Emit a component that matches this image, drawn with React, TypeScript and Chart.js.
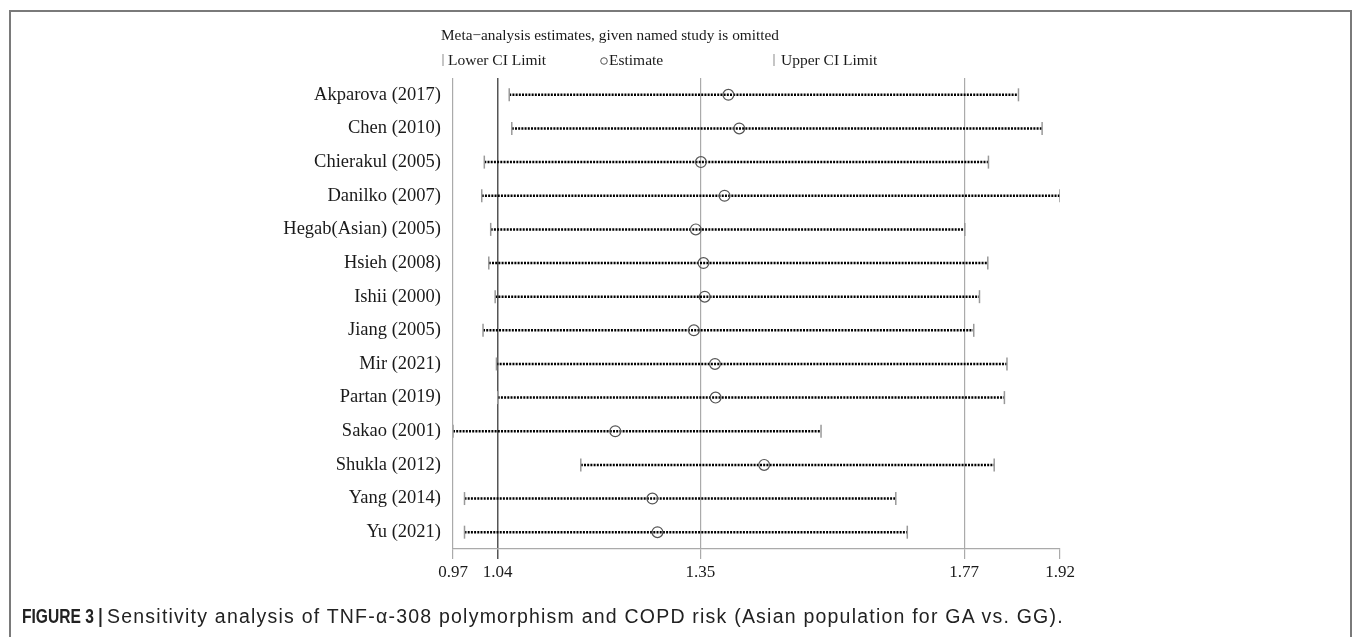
import React, { useEffect, useRef } from "react";
import { Chart, registerables } from "chart.js";

Chart.register(...registerables);

const studies = [
  "Akparova (2017)",
  "Chen (2010)",
  "Chierakul (2005)",
  "Danilko (2007)",
  "Hegab(Asian) (2005)",
  "Hsieh (2008)",
  "Ishii (2000)",
  "Jiang (2005)",
  "Mir (2021)",
  "Partan (2019)",
  "Sakao (2001)",
  "Shukla (2012)",
  "Yang (2014)",
  "Yu (2021)",
];

const estimates = [1.401, 1.418, 1.358, 1.395, 1.35, 1.362, 1.364, 1.347, 1.38, 1.381, 1.224, 1.457, 1.282, 1.29];
const lowerCI = [1.058, 1.062, 1.019, 1.015, 1.029, 1.026, 1.036, 1.017, 1.038, 1.04, 0.97, 1.17, 0.988, 0.988];
const upperCI = [1.855, 1.892, 1.808, 1.92, 1.771, 1.807, 1.794, 1.785, 1.837, 1.833, 1.546, 1.817, 1.663, 1.681];

const tickValues = [0.97, 1.04, 1.357, 1.77, 1.92];
const tickLabels = ["0.97", "1.04", "1.35", "1.77", "1.92"];

const titleText = "Meta\u2212analysis estimates, given named study is omitted";
const legendLabels = ["Lower CI Limit", "Estimate", "Upper CI Limit"];
const captionLabel = "FIGURE 3 |";
const captionText = "Sensitivity analysis of TNF-\u03b1-308 polymorphism and COPD risk (Asian population for GA vs. GG).";

const SERIF = '"Liberation Serif", "Times New Roman", serif';

const headerPlugin = {
  id: "header",
  afterDraw(chart: any) {
    const ctx = chart.ctx as CanvasRenderingContext2D;
    ctx.save();
    ctx.fillStyle = "#1a1a1a";
    ctx.font = `15.3px ${SERIF}`;
    ctx.textBaseline = "middle";
    ctx.textAlign = "left";
    ctx.fillText(titleText, 441, 36);
    const ly = 60;
    ctx.strokeStyle = "#a0a0a0";
    ctx.lineWidth = 1.2;
    ctx.beginPath();
    ctx.moveTo(443, ly - 6);
    ctx.lineTo(443, ly + 6);
    ctx.moveTo(774, ly - 6);
    ctx.lineTo(774, ly + 6);
    ctx.stroke();
    ctx.font = `15.5px ${SERIF}`;
    ctx.fillText(legendLabels[0], 448, ly + 1);
    ctx.strokeStyle = "#555";
    ctx.lineWidth = 1;
    ctx.beginPath();
    ctx.arc(604, ly + 1, 3.3, 0, Math.PI * 2);
    ctx.stroke();
    ctx.fillText(legendLabels[1], 609, ly + 1);
    ctx.fillText(legendLabels[2], 781, ly + 1);
    ctx.restore();
  },
};

export default function App() {
  const canvasRef = useRef<HTMLCanvasElement | null>(null);

  useEffect(() => {
    if (!canvasRef.current) return;
    const lineSets = studies.map((s, i) => ({
      type: "scatter" as const,
      data: [
        { x: lowerCI[i], y: s },
        { x: upperCI[i], y: s },
      ],
      showLine: true,
      borderColor: "#000",
      borderWidth: 2.5,
      borderDash: [2, 1.2],
      pointRadius: 0,
      pointHoverRadius: 0,
    }));
    const chart = new Chart(canvasRef.current, {
      type: "scatter",
      data: {
        datasets: [
          {
            data: studies.map((s, i) => ({ x: estimates[i], y: s })),
            pointStyle: "circle",
            pointRadius: 5.4,
            borderColor: "#555",
            borderWidth: 1.2,
            backgroundColor: "rgba(0,0,0,0)",
          },
          {
            data: studies.map((s, i) => ({ x: lowerCI[i], y: s })),
            pointStyle: "line",
            rotation: 90,
            pointRadius: 6.5,
            borderColor: "#999",
            borderWidth: 1.5,
          },
          {
            data: studies.map((s, i) => ({ x: upperCI[i], y: s })),
            pointStyle: "line",
            rotation: 90,
            pointRadius: 6.5,
            borderColor: "#999",
            borderWidth: 1.5,
          },
          ...lineSets,
        ] as any,
      },
      options: {
        animation: false,
        responsive: false,
        layout: { padding: { left: 0, top: 78, right: 297, bottom: 0 } },
        plugins: { legend: { display: false }, tooltip: { enabled: false } },
        scales: {
          x: {
            type: "linear",
            min: 0.97,
            max: 1.92,
            afterBuildTicks: (scale: any) => {
              scale.ticks = tickValues.map((v) => ({ value: v }));
            },
            afterFit: (scale: any) => {
              scale.height = 88;
            },
            grid: {
              color: (c: any) => {
                const v = c.tick ? c.tick.value : null;
                if (v === 1.92) return "rgba(0,0,0,0)";
                if (v === 1.04) return "#555";
                return "#aaa";
              },
              lineWidth: (c: any) => (c.tick && c.tick.value === 1.04 ? 1.5 : 1.2),
              tickColor: (c: any) => (c.tick && c.tick.value === 1.04 ? "#555" : "#aaa"),
              tickLength: 10,
              drawTicks: true,
            },
            border: { display: true, color: "#aaa", width: 1.2 },
            ticks: {
              autoSkip: false,
              maxRotation: 0,
              padding: 3,
              color: "#1a1a1a",
              font: { family: SERIF, size: 17 },
              callback: (_v: any, i: number) => tickLabels[i],
            },
          },
          y: {
            type: "category",
            labels: studies,
            offset: true,
            afterFit: (scale: any) => {
              scale.width = 453;
            },
            grid: { display: false, drawTicks: false, tickLength: 0 },
            border: { display: false },
            ticks: {
              padding: 12,
              color: "#1a1a1a",
              font: { family: SERIF, size: 18.5 },
            },
          },
        },
      } as any,
      plugins: [headerPlugin],
    });
    return () => chart.destroy();
  }, []);

  const capBase: React.CSSProperties = {
    position: "absolute",
    top: 606,
    lineHeight: "20px",
    color: "#222",
    whiteSpace: "nowrap",
  };

  return (
    <div style={{ position: "absolute", left: 0, top: 0, width: 1357, height: 637, overflow: "hidden", background: "#fff" }}>
      <div
        style={{
          position: "absolute",
          left: 9,
          top: 10,
          width: 1343,
          height: 700,
          border: "2px solid #7a7a7a",
          boxSizing: "border-box",
        }}
      />
      <canvas ref={canvasRef} width={1357} height={637} style={{ position: "absolute", left: 0, top: 0, width: 1357, height: 637 }} />
      <div
        style={{
          ...capBase,
          left: 22,
          fontFamily: '"Liberation Sans", Arial, sans-serif',
          fontSize: 19.5,
          fontWeight: "bold",
          transform: "scaleX(0.8)",
          transformOrigin: "left center",
        }}
      >
        {captionLabel}
      </div>
      <div
        style={{
          ...capBase,
          left: 107,
          fontFamily: '"Liberation Sans", Arial, sans-serif',
          fontSize: 19.5,
          letterSpacing: "1.22px",
        }}
      >
        {captionText}
      </div>
    </div>
  );
}
